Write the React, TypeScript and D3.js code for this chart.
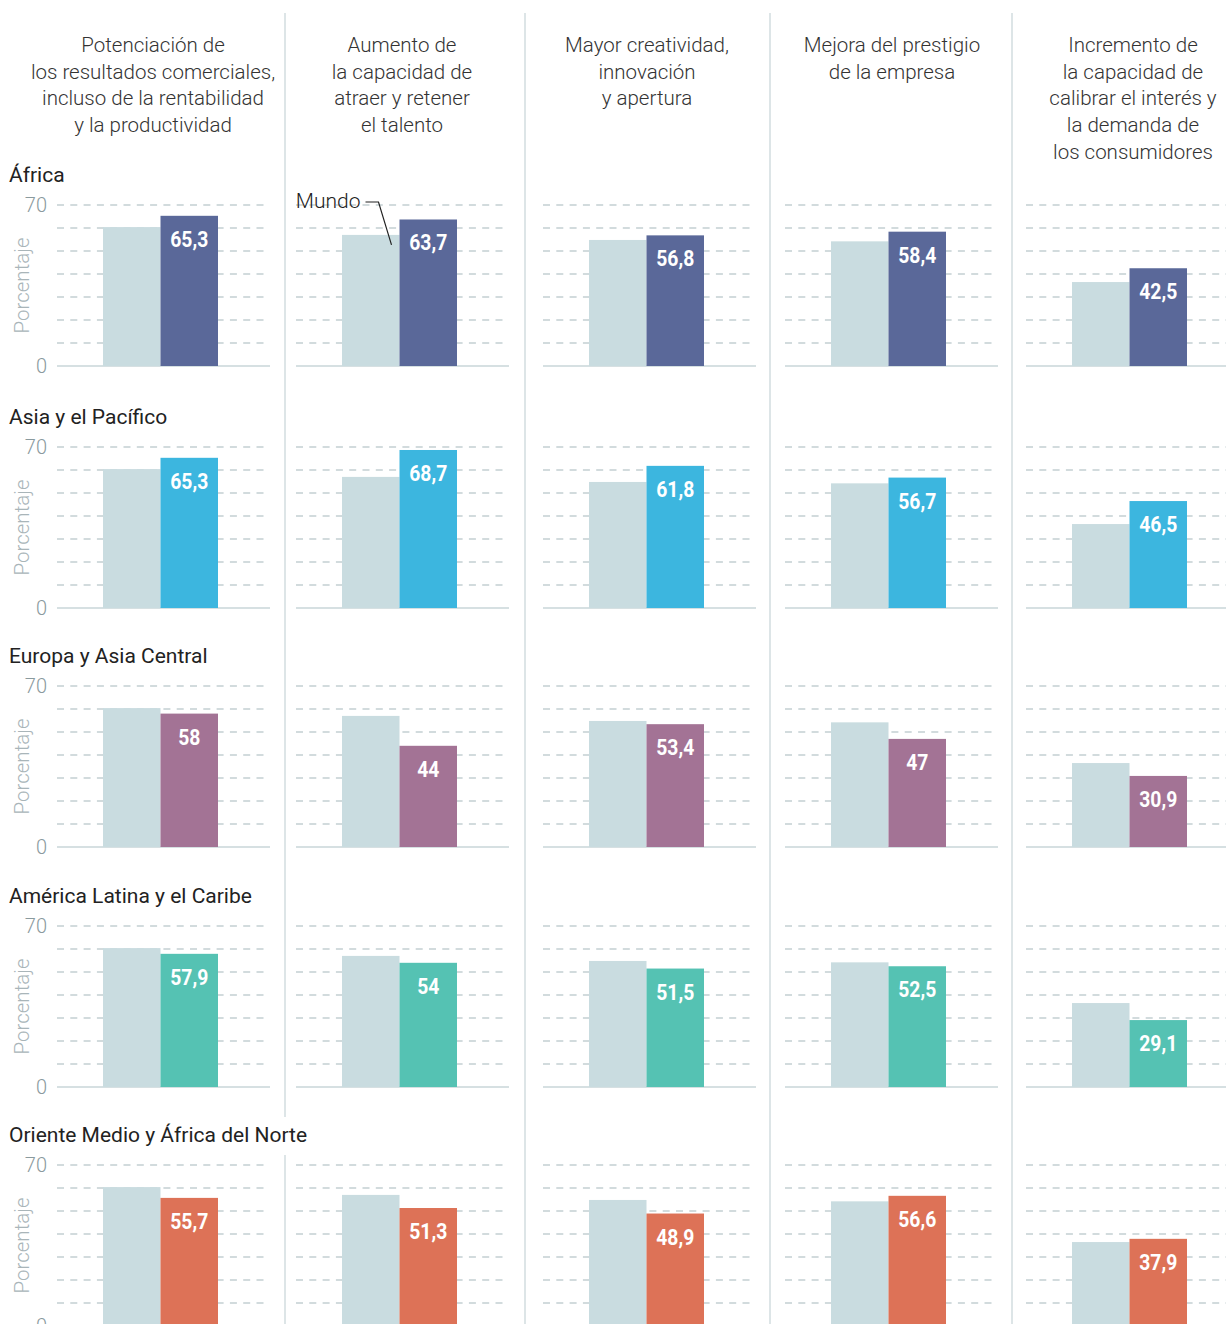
import * as d3 from "d3";

// categories (column headers, one line per entry)
const categories = [
  ["Potenciación de", "los resultados comerciales,", "incluso de la rentabilidad", "y la productividad"],
  ["Aumento de", "la capacidad de", "atraer y retener", "el talento"],
  ["Mayor creatividad,", "innovación", "y apertura"],
  ["Mejora del prestigio", "de la empresa"],
  ["Incremento de", "la capacidad de", "calibrar el interés y", "la demanda de", "los consumidores"],
];

const regions = [
  "África",
  "Asia y el Pacífico",
  "Europa y Asia Central",
  "América Latina y el Caribe",
  "Oriente Medio y África del Norte",
];

const regionColors = ["#5a6899", "#3cb6df", "#a37395", "#55c2b3", "#dd7257"];
const mundoColor = "#c9dce0";

// world average (unlabelled bars)
const mundoValues = [60.4, 57.0, 54.8, 54.2, 36.5];

const africaValues = [65.3, 63.7, 56.8, 58.4, 42.5];
const asiaValues = [65.3, 68.7, 61.8, 56.7, 46.5];
const europaValues = [58, 44, 53.4, 47, 30.9];
const americaValues = [57.9, 54, 51.5, 52.5, 29.1];
const orienteValues = [55.7, 51.3, 48.9, 56.6, 37.9];
const regionValues = [africaValues, asiaValues, europaValues, americaValues, orienteValues];

const gridTicks = [10, 20, 30, 40, 50, 60, 70];
const tickLabels = [0, 70];

// layout
const width = 1226;
const height = 1324;
const colLeft = [57, 296, 543, 785, 1026];
const headerCenter = [153, 402, 647, 892, 1133];
const separators = [285, 525, 770, 1012];
const rowTop = [205, 447, 686, 926, 1165];
const plotH = 161;
const gridW = 208;
const baseW = 213;

const sans = "Roboto, 'Noto Sans', sans-serif";

const y = d3.scaleLinear().domain([0, 70]).range([plotH, 0]);
const x = d3.scaleBand().domain(["mundo", "region"]).range([46, 161]).padding(0);

const fmt = (v: number) => String(v).replace(".", ",");

let ctx: CanvasRenderingContext2D | null = null;
const measure = (text: string, font: string) => {
  if (!ctx) ctx = document.createElement("canvas").getContext("2d");
  if (!ctx) return text.length * 9.5;
  ctx.font = font;
  return ctx.measureText(text).width;
};

const Panel = ({ r, c }: { r: number; c: number }) => {
  const v = regionValues[r][c];
  const m = mundoValues[c];
  const bw = x.bandwidth();
  const cx = x("region")! + bw / 2;
  return (
    <g transform={`translate(${colLeft[c]},${rowTop[r]})`}>
      {gridTicks.map(t => (
        <line key={t} x1={0} x2={gridW} y1={y(t)} y2={y(t)} stroke="#c3cfd2" strokeWidth={1.5} strokeDasharray="7,6.3" />
      ))}
      <line x1={0} x2={baseW} y1={y(0)} y2={y(0)} stroke="#c8d6d9" strokeWidth={1.5} />
      <rect x={x("mundo")} y={y(m)} width={bw} height={y(0) - y(m)} fill={mundoColor} />
      <rect x={x("region")} y={y(v)} width={bw} height={y(0) - y(v)} fill={regionColors[r]} />
      <text
        transform={`translate(${cx},${y(v) + 31}) scale(0.86,1)`}
        textAnchor="middle"
        fill="#fff"
        fontFamily={sans}
        fontWeight={700}
        fontSize={22.5}
      >
        {fmt(v)}
      </text>
    </g>
  );
};

const App = () => {
  const titleFont = `400 21px Roboto`;
  // leader for the "Mundo" annotation (Africa row, second column)
  const lx = colLeft[1] + x("mundo")! + x.bandwidth() - 8;
  const ly = rowTop[0] + y(mundoValues[1]) + 10;

  return (
    <svg width={width} height={height} style={{ position: "absolute", left: 0, top: 0, background: "#fff" }}>
      {separators.map(s => (
        <line key={s} x1={s} x2={s} y1={13} y2={height} stroke="#dde5e7" strokeWidth={2} />
      ))}

      {categories.map((lines, c) => (
        <text key={c} textAnchor="middle" fontFamily={sans} fontWeight={300} fontSize={20.5} fill="#333">
          {lines.map((l, i) => (
            <tspan key={i} x={headerCenter[c]} y={52 + i * 26.7}>
              {l}
            </tspan>
          ))}
        </text>
      ))}

      {regions.map((name, r) => {
        const top = rowTop[r];
        const tw = measure(name, titleFont);
        return (
          <g key={name}>
            <rect x={4} y={top - 48} width={tw + 14} height={38} fill="#fff" />
            <text x={9} y={top - 23} fontFamily={sans} fontSize={21} fill="#222">
              {name}
            </text>
            {tickLabels.map(t => (
              <text key={t} x={47} y={top + y(t) + 7} textAnchor="end" fontFamily={sans} fontWeight={300} fontSize={20} fill="#8a9a9e">
                {t}
              </text>
            ))}
            <text
              transform={`translate(29,${top + plotH / 2}) rotate(-90)`}
              textAnchor="middle"
              fontFamily={sans}
              fontWeight={300}
              fontSize={20.5}
              fill="#a9b5b9"
            >
              Porcentaje
            </text>
            {categories.map((_, c) => (
              <Panel key={c} r={r} c={c} />
            ))}
          </g>
        );
      })}

      <text x={lx - 31} y={rowTop[0] + 3} textAnchor="end" fontFamily={sans} fontWeight={300} fontSize={21} fill="#222">
        Mundo
      </text>
      <polyline
        points={`${lx - 26},${rowTop[0] - 3} ${lx - 13},${rowTop[0] - 3} ${lx},${ly}`}
        fill="none"
        stroke="#222"
        strokeWidth={1.2}
      />
    </svg>
  );
};

export default App;
